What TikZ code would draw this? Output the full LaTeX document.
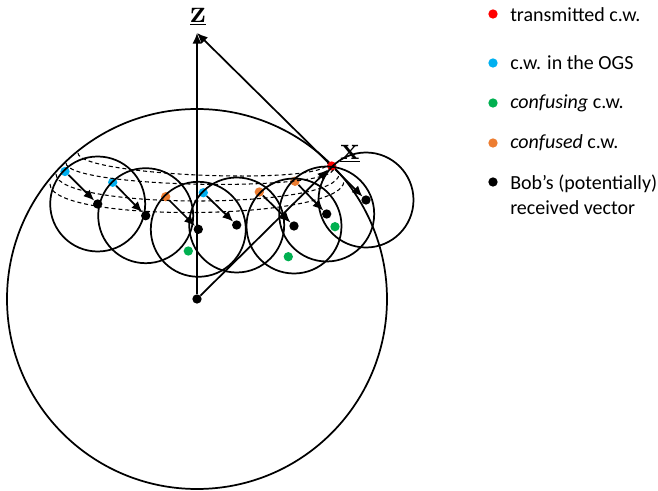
\documentclass[tikz,border=0pt]{standalone}
\usepackage[no-math]{fontspec}
\newfontfamily\legendfont{Carlito}
\usetikzlibrary{arrows.meta}
\definecolor{cwred}{RGB}{255,0,0}
\definecolor{cwcyan}{RGB}{0,176,240}
\definecolor{cwgreen}{RGB}{0,176,80}
\definecolor{cworange}{RGB}{237,125,49}

\tikzset{
  cwdot/.style={circle, fill=#1, inner sep=0pt, minimum size=7pt},
  vecarrow/.style={-{Latex[length=8pt,width=7pt]}, line width=1.3pt},
  ballline/.style={line width=1.3pt},
  ringline/.style={line width=0.8pt, dash pattern=on 3pt off 2.2pt},
  legtext/.style={anchor=west, inner sep=0pt, align=left,
    font=\legendfont\fontsize{15}{18.75}\selectfont},
  veclabel/.style={inner sep=0pt, font=\bfseries\fontsize{24}{26}\selectfont},
}

\begin{document}
\begin{tikzpicture}[x=0.75pt, y=-0.75pt]
  \useasboundingbox (0,0) rectangle (658,491);

  % sphere and axis
  \node[cwdot=black] (o) at (197,299) {};
  \coordinate (ztip) at (197,33);
  \draw[ballline] (o) circle[radius=190];

  % codewords and received vectors
  \node[cwdot=cwcyan]   (c1) at (65,171.5) {};
  \node[cwdot=cwcyan]   (c2) at (112.7,182.3) {};
  \node[cwdot=cworange] (c3) at (165.7,196.7) {};
  \node[cwdot=cwcyan]   (c4) at (203.3,192.7) {};
  \node[cwdot=cworange] (c5) at (259.3,192) {};
  \node[cwdot=cworange] (c6) at (295,181.3) {};
  \node[cwdot=cwred]    (c7) at (331.7,166) {};
  \node[cwdot=black] (b1) at (97.7,204) {};
  \node[cwdot=black] (b2) at (145.7,215.7) {};
  \node[cwdot=black] (b3) at (198.3,229.3) {};
  \node[cwdot=black] (b4) at (236.7,225) {};
  \node[cwdot=black] (b5) at (294,226) {};
  \node[cwdot=black] (b6) at (326.7,214) {};
  \node[cwdot=black] (b7) at (366,200) {};
  \node[cwdot=cwgreen] (g1) at (188.3,251) {};
  \node[cwdot=cwgreen] (g2) at (288.3,256.7) {};
  \node[cwdot=cwgreen] (g3) at (335,226.7) {};

  % noise balls
  \foreach \i in {1,...,7}
    \draw[ballline] (b\i) circle[radius=47.5];

  % OGS band
  \draw[ringline] (78,153) .. controls (78,176) and (328,186) .. (328,163);
  \draw[ringline] (66,163) .. controls (66,188) and (334,193) .. (334,168);
  \draw[ringline] (56,174) .. controls (56,210) and (339,210) .. (339,174);
  \draw[ringline] (50,184) .. controls (50,224) and (344,221) .. (344,181);

  % vectors
  \draw[vecarrow] (o) -- (ztip);
  \draw[vecarrow] (o) -- (c7);
  \draw[vecarrow] (c7) -- (ztip);
  \foreach \i in {1,...,7}
    \draw[vecarrow] (c\i) -- (b\i);

  \node[veclabel] (zlab) at (198,17) {\underline{z}};
  \node[veclabel] (xlab) at (350,154) {\underline{x}};

  % legend
  \node[cwdot=cwred]    (lred) at (493,14) {};
  \node[cwdot=cwcyan]   (lcyan) at (493,63) {};
  \node[cwdot=cwgreen]  (lgreen) at (493,103) {};
  \node[cwdot=cworange] (lorange) at (493,143) {};
  \node[cwdot=black]    (lblack) at (493,182) {};
  \node[legtext] (tred) at (510,15) {transmitted c.w.};
  \node[legtext] (tcyan) at (510,63) {c.w. in the OGS};
  \node[legtext] (tgreen) at (510,103) {\textit{confusing} c.w.};
  \node[legtext] (torange) at (510,143) {\textit{confused} c.w.};
  \node[legtext] (tblack) at (510,194.5) {Bob’s (potentially)\\received vector};
\end{tikzpicture}
\end{document}
